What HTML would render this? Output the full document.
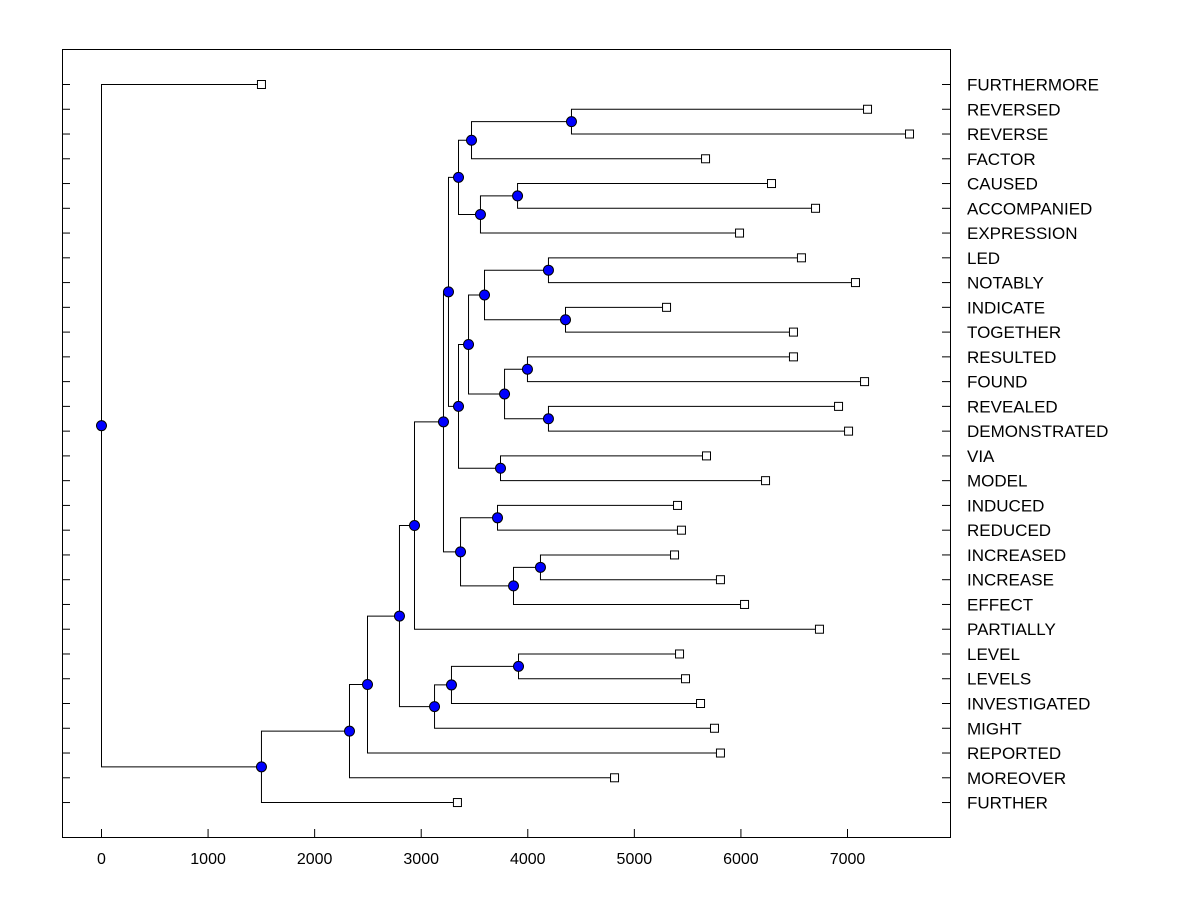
<!DOCTYPE html>
<html><head><meta charset="utf-8"><style>
body{margin:0;background:#fff}
svg{display:block;font-family:"Liberation Sans",sans-serif}
</style></head><body>
<svg id="chart" width="1200" height="900" viewBox="0 0 1200 900">
<rect x="62.5" y="49.5" width="888" height="788" fill="#fff" stroke="#000" stroke-width="1"/>
<g id="axis"></g><g id="links"></g><g id="marks"></g><g id="labels"></g>
</svg>
<script>
const leafNames = ["FURTHERMORE","REVERSED","REVERSE","FACTOR","CAUSED","ACCOMPANIED","EXPRESSION","LED","NOTABLY","INDICATE","TOGETHER","RESULTED","FOUND","REVEALED","DEMONSTRATED","VIA","MODEL","INDUCED","REDUCED","INCREASED","INCREASE","EFFECT","PARTIALLY","LEVEL","LEVELS","INVESTIGATED","MIGHT","REPORTED","MOREOVER","FURTHER"];
const leafValues = [1501,7188,7582,5668,6287,6700,5987,6568,7075,5302,6493,6493,7160,6916,7010,5677,6231,5405,5442,5377,5808,6034,6737,5424,5480,5621,5752,5808,4814,3340];
const mergeLeft  = [1,30,4,32,31,7,9,35,11,13,38,37,15,41,34,17,19,46,45,44,49,23,51,52,50,54,55,56,0];
const mergeRight = [2,3,5,6,33,8,10,36,12,14,39,40,16,42,43,18,20,21,47,48,22,24,25,26,53,27,28,29,57];
const mergeHeights = [4410,3472,3904,3556,3350,4194,4354,3594,3997,4194,3782,3444,3744,3350,3256,3716,4119,3866,3369,3209,2937,3913,3284,3125,2796,2496,2327,1501,0];
const xTicks = [0,1000,2000,3000,4000,5000,6000,7000];

const NS="http://www.w3.org/2000/svg";
const xs = v => 101.5 + v*0.10657;
const ys = i => 84.5 + i*24.76;
function mk(tag, attrs, parent){const e=document.createElementNS(NS,tag);for(const k in attrs)e.setAttribute(k,attrs[k]);document.getElementById(parent).appendChild(e);return e;}

xTicks.forEach(t=>{
  const l=mk("line",{x1:xs(t),x2:xs(t),y1:837,y2:829,stroke:"#000"},"axis");
  
  
  const tx=mk("text",{x:xs(t),y:864,"text-anchor":"middle","font-size":16},"axis");
  tx.textContent=t;
  
  
});
leafNames.forEach((n,i)=>{
  const a=mk("line",{x1:62,x2:70,y1:ys(i),y2:ys(i),stroke:"#000"},"axis");
  
  
  const b=mk("line",{x1:942,x2:950,y1:ys(i),y2:ys(i),stroke:"#000"},"axis");
  
  
  const t=mk("text",{x:967,y:ys(i)+6,"font-size":17},"labels");
  t.textContent=n;
  
  
});

const nx=[], ny=[];
leafValues.forEach((v,i)=>{nx.push(xs(v));ny.push(ys(i));});
mergeHeights.forEach((h,k)=>{
  const a=mergeLeft[k], b=mergeRight[k];
  const x=xs(h), y=(ny[a]+ny[b])/2;
  nx.push(x);ny.push(y);
  const p=mk("path",{d:`M${nx[a]},${ny[a]}H${x}V${ny[b]}H${nx[b]}`,fill:"none",stroke:"#000","stroke-width":1},"links");
  
  
});
leafValues.forEach((v,i)=>{
  const r=mk("rect",{x:nx[i]-4,y:ny[i]-4,width:8,height:8,fill:"#fff",stroke:"#000"},"marks");
  
  
});
mergeHeights.forEach((h,k)=>{
  const i=leafValues.length+k;
  const c=mk("circle",{cx:nx[i],cy:ny[i],r:5,fill:"#0000ff",stroke:"#000","stroke-width":1},"marks");
  
  
});
</script>
</body></html>
